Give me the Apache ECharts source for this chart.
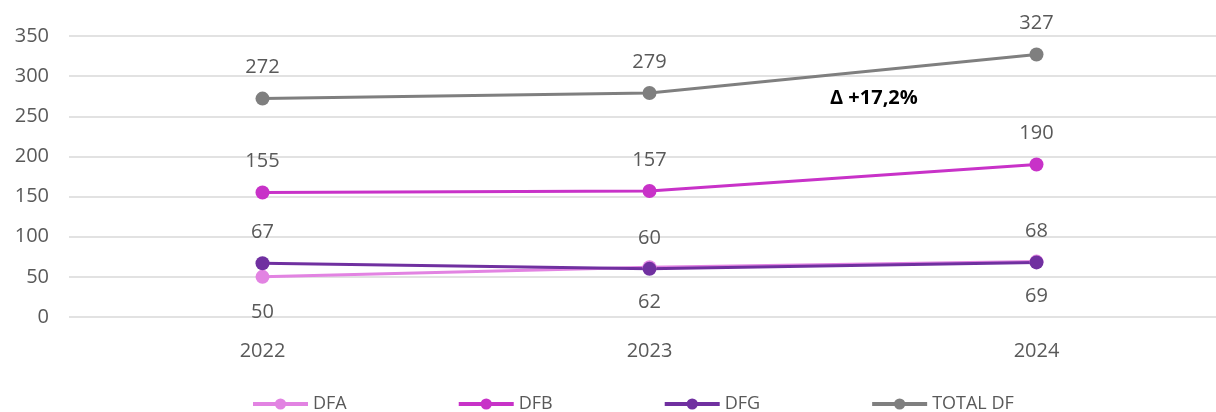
<!DOCTYPE html>
<html><head><meta charset="utf-8">
<script src="https://cdn.jsdelivr.net/npm/echarts@6/dist/echarts.min.js"></script>
<style>html,body{margin:0;padding:0;background:#fff}#c{width:1216px;height:412px}</style>
</head><body><div id="c"></div>
<script>
const categories = ['2022', '2023', '2024'];
const dfa = [50, 62, 69];
const dfb = [155, 157, 190];
const dfg = [67, 60, 68];
const totalDf = [272, 279, 327];
const yTicks = [0, 50, 100, 150, 200, 250, 300, 350];
const deltaText = 'Δ +17,2%';

const font = '"Open Sans", sans-serif';
const chart = echarts.init(document.getElementById('c'));
function s(name, data, color, pos) {
  return {
    name, type: 'line', data, symbol: 'circle', symbolSize: 14,
    lineStyle: { color, width: 3 }, itemStyle: { color },
    label: { show: true, position: pos, distance: pos === 'top' ? 14 : 18, color: '#595959', fontSize: 20, fontFamily: font }
  };
}
chart.setOption({
  animation: false,
  grid: { left: 69, width: 1161, top: 36, bottom: 95, containLabel: false, outerBoundsMode: 'none' },
  legend: {
    top: 390, left: 246, itemGap: 110, itemWidth: 55, itemHeight: 14,
    lineStyle: { width: 4 },
    textStyle: { color: '#595959', fontSize: 18, fontFamily: font },
    data: ['DFA', 'DFB', 'DFG', 'TOTAL DF']
  },
  xAxis: {
    type: 'category', data: categories, boundaryGap: true,
    axisLine: { show: false }, axisTick: { show: false },
    axisLabel: { color: '#595959', fontSize: 20, fontFamily: font, margin: 24 }
  },
  yAxis: {
    type: 'value', min: yTicks[0], max: yTicks[yTicks.length - 1], interval: 50,
    axisLabel: { color: '#595959', fontSize: 20, fontFamily: font, margin: 20 },
    splitLine: { lineStyle: { color: '#d9d9d9', width: 1.5 } }
  },
  series: [
    s('DFA', dfa, '#e283e2', 'bottom'),
    s('DFB', dfb, '#c832c8', 'top'),
    s('DFG', dfg, '#7030a0', 'top'),
    s('TOTAL DF', totalDf, '#7f7f7f', 'top')
  ],
  graphic: [{
    type: 'text', left: 830, top: 88,
    style: { text: deltaText, fontSize: 20, fontWeight: 'bold', fill: '#000', fontFamily: font }
  }]
});
</script></body></html>
